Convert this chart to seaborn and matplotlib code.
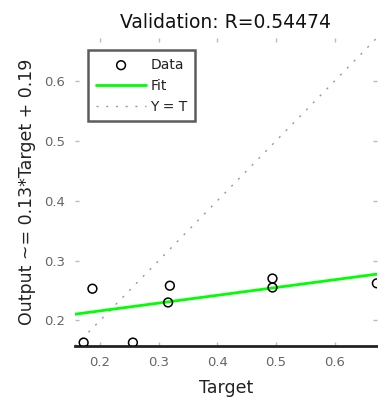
import matplotlib
matplotlib.use("Agg")
import matplotlib.pyplot as plt
import numpy as np
import pandas as pd
import seaborn as sns

# Validation samples: network target vs. network output
target = [0.172, 0.256, 0.187, 0.319, 0.316, 0.494, 0.494, 0.672]
output = [0.163, 0.163, 0.253, 0.258, 0.230, 0.270, 0.255, 0.262]

# Linear fit coefficients and correlation
fit_slope = 0.13
fit_intercept = 0.19
r_value = 0.54474

axis_min = 0.157
axis_max = 0.672
tick_values = [0.2, 0.3, 0.4, 0.5, 0.6]

sns.set_theme(style="white")
plt.rcParams["font.family"] = ["DejaVu Sans"]

fig = plt.figure(figsize=(3.78, 4.03), dpi=100)
ax = fig.add_axes([0.198, 0.141, 0.799, 0.765])

span = np.array([axis_min, axis_max])
fit_df = pd.DataFrame({"x": span, "y": fit_slope * span + fit_intercept})
ident_df = pd.DataFrame({"x": span, "y": span})
data_df = pd.DataFrame({"Target": target, "Output": output})

sns.scatterplot(data=data_df, x="Target", y="Output", ax=ax, marker="o",
                s=40, facecolor="none", edgecolor="black", linewidth=1.1,
                label="Data", zorder=3)
sns.lineplot(data=fit_df, x="x", y="y", ax=ax, color="#00ff00",
             linewidth=2.0, label="Fit", zorder=2)
sns.lineplot(data=ident_df, x="x", y="y", ax=ax, color="#999999",
             linewidth=1.0, linestyle=(0, (1.5, 5.5)), label="Y = T", zorder=1)

ax.set_xlim(axis_min, axis_max)
ax.set_ylim(axis_min, axis_max)
ax.set_xticks(tick_values)
ax.set_yticks(tick_values)
ax.set_xticklabels([f"{v:.1f}" for v in tick_values])
ax.set_yticklabels([f"{v:.1f}" for v in tick_values])

for side in ["left", "right", "top"]:
    ax.spines[side].set_visible(False)
ax.spines["bottom"].set_color("#222222")
ax.spines["bottom"].set_linewidth(2.0)

ax.tick_params(axis="both", which="both", direction="in", length=3,
               width=1, color="#bbbbbb", labelsize=9.5, labelcolor="#666666",
               left=True, right=True, top=True, bottom=True, pad=7)

ax.set_xlabel("Target", fontsize=12.5, color="#222222", labelpad=7)
ax.set_ylabel(f"Output ~= {fit_slope:.2f}*Target + {fit_intercept:.2f}",
              fontsize=12.5, color="#222222", labelpad=6)
ax.set_title(f"Validation: R={r_value:.5f}", fontsize=13.5, color="#111111",
             pad=7)

leg = ax.legend(loc="upper left", bbox_to_anchor=(0.045, 0.96), fontsize=10,
                frameon=True, fancybox=False, handlelength=3.6,
                handletextpad=0.3, borderpad=0.55, labelspacing=0.5,
                borderaxespad=0)
leg.get_frame().set_edgecolor("#333333")
leg.get_frame().set_linewidth(1.8)
for txt in leg.get_texts():
    txt.set_color("#222222")

fig.savefig("out.png", dpi=100)
